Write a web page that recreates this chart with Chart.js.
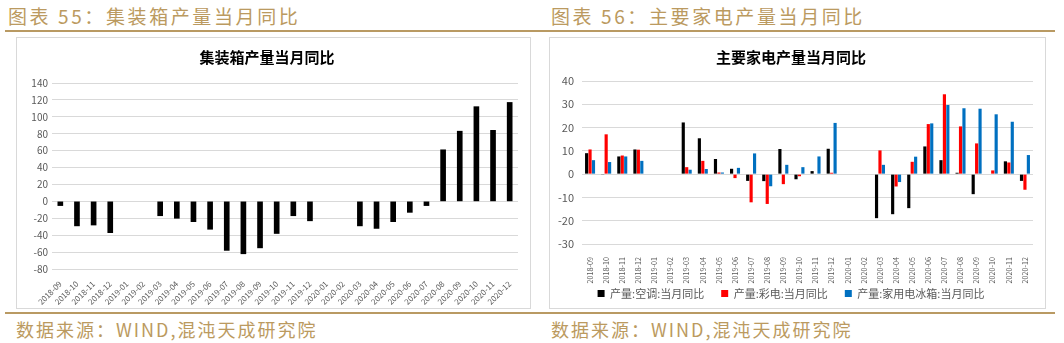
<!DOCTYPE html>
<html>
<head>
<meta charset="utf-8">
<script src="https://cdn.jsdelivr.net/npm/chart.js@4"></script>
<style>
  body { margin: 0; width: 1064px; height: 343px; background: #fff; position: relative; overflow: hidden; }
  .head { position: absolute; top: 2px; font: 19px "Noto Sans CJK SC", sans-serif; color: #bb9a60; letter-spacing: 2.6px; white-space: nowrap; }
  .foot { position: absolute; top: 316px; font: 18px "Noto Sans CJK SC", sans-serif; color: #bb9a60; letter-spacing: 2px; white-space: nowrap; }
  .rule { position: absolute; left: 5px; width: 1050px; height: 2px; background: #b99a63; }
  .box { position: absolute; top: 37px; height: 272px; border: 1px solid #d9d9d9; box-sizing: border-box; }
  canvas { position: absolute; top: 37px; }
</style>
</head>
<body>
<div class="head" style="left:8px">图表 55：集装箱产量当月同比</div>
<div class="head" style="left:551px">图表 56：主要家电产量当月同比</div>
<div class="rule" style="top:30px"></div>
<div class="box" style="left:16px;width:515px"></div>
<div class="box" style="left:549px;width:497px"></div>
<canvas id="left-chart" style="left:16px"></canvas>
<canvas id="right-chart" style="left:549px"></canvas>
<div class="rule" style="top:312px"></div>
<div class="foot" style="left:16px">数据来源：WIND,混沌天成研究院</div>
<div class="foot" style="left:551px">数据来源：WIND,混沌天成研究院</div>

<script>
// ─── Data ──────────────────────────────────────────────────────

const MONTHS = [
  '2018-09', '2018-10', '2018-11', '2018-12',
  '2019-01', '2019-02', '2019-03', '2019-04', '2019-05', '2019-06',
  '2019-07', '2019-08', '2019-09', '2019-10', '2019-11', '2019-12',
  '2020-01', '2020-02', '2020-03', '2020-04', '2020-05', '2020-06',
  '2020-07', '2020-08', '2020-09', '2020-10', '2020-11', '2020-12',
];

const CONTAINER_YOY = [
  -5, -29, -28, -37, null, null, -17, -20, -24, -33,
  -58, -62, -55, -38, -17, -23, null, null, -29, -32,
  -24, -13, -5, 61, 83, 112, 84, 117,
];

const AC_YOY = [
  9.0, -0.3, 7.6, 10.6, null, null, 22.2, 15.4, 6.5, 2.3,
  -2.9, -3.0, 10.8, -2.2, 1.3, 10.9, null, null, -18.9, -17.2,
  -14.6, 11.9, 6.0, 0.6, -8.6, 0, 5.5, -2.9,
];

const TV_YOY = [
  10.6, 17.1, 8.0, 10.5, null, null, 3.0, 5.7, 0.7, -1.7,
  -12.1, -12.8, -4.3, -0.9, 0, 0.6, null, null, 10.2, -5.3,
  5.3, 21.5, 34.3, 20.5, 13.2, 1.6, 5.0, -6.7,
];

const FRIDGE_YOY = [
  6.0, 5.2, 7.6, 5.7, null, null, 1.9, 2.2, 0.7, 2.7,
  8.9, -5.2, 4.0, 3.0, 7.6, 22.0, null, null, 4.0, -3.4,
  7.5, 21.8, 29.7, 28.3, 28.1, 25.7, 22.5, 8.2,
];

const FONT = '"Noto Sans CJK SC", "Liberation Sans", sans-serif';
const TICK_COLOR = '#595959';
const GRID_COLOR = '#d9d9d9';

// ─── Charts ────────────────────────────────────────────────────

function renderContainerChart() {
  const canvas = document.getElementById('left-chart');
  canvas.width = 515;
  canvas.height = 273;

  new Chart(canvas, {
    type: 'bar',
    data: {
      labels: MONTHS,
      datasets: [{
        label: '集装箱产量当月同比',
        data: CONTAINER_YOY,
        backgroundColor: '#000',
        barThickness: 5,
      }],
    },
    options: {
      responsive: false,
      animation: false,
      layout: { padding: { left: 0, right: 13, top: 0, bottom: 0 } },
      plugins: {
        legend: { display: false },
        tooltip: { enabled: false },
        title: {
          display: true,
          text: '集装箱产量当月同比',
          color: '#000',
          font: { family: FONT, size: 15, weight: 'bold' },
          padding: { top: 11, bottom: 17 },
        },
      },
      scales: {
        y: {
          min: -80,
          max: 140,
          afterFit: s => { s.width = 36; },
          ticks: { stepSize: 20, color: TICK_COLOR, padding: 4, font: { family: FONT, size: 10 } },
          grid: { color: GRID_COLOR, drawTicks: false },
          border: { display: false },
        },
        x: {
          afterFit: s => { s.height = 41; },
          ticks: {
            autoSkip: false, minRotation: 45, maxRotation: 45,
            color: TICK_COLOR, padding: 2, font: { family: FONT, size: 8 },
          },
          grid: { display: false },
          border: { display: false },
        },
      },
    },
  });
}

// legend keeps wide gaps between items but sits closer to the axis labels
const liftLegend = {
  id: 'liftLegend',
  afterLayout(chart) {
    if (!chart.legend) return;
    chart.legend.top -= 13;
    chart.legend.bottom -= 13;
  },
};

function renderApplianceChart() {
  const canvas = document.getElementById('right-chart');
  canvas.width = 497;
  canvas.height = 273;

  const series = [
    { label: '产量:空调:当月同比', data: AC_YOY, color: '#000000' },
    { label: '产量:彩电:当月同比', data: TV_YOY, color: '#ff0000' },
    { label: '产量:家用电冰箱:当月同比', data: FRIDGE_YOY, color: '#0070c0' },
  ];

  new Chart(canvas, {
    type: 'bar',
    data: {
      labels: MONTHS,
      datasets: series.map(s => ({
        label: s.label,
        data: s.data,
        backgroundColor: s.color,
        categoryPercentage: 0.64,
        barPercentage: 0.92,
      })),
    },
    plugins: [liftLegend],
    options: {
      responsive: false,
      animation: false,
      layout: { padding: { left: 0, right: 13, top: 0, bottom: -12 } },
      plugins: {
        tooltip: { enabled: false },
        title: {
          display: true,
          text: '主要家电产量当月同比',
          color: '#000',
          font: { family: FONT, size: 15, weight: 'bold' },
          padding: { top: 11, bottom: 15 },
        },
        legend: {
          position: 'bottom',
          labels: {
            boxWidth: 7,
            boxHeight: 7,
            padding: 17,
            color: TICK_COLOR,
            font: { family: FONT, size: 11 },
          },
        },
      },
      scales: {
        y: {
          min: -30,
          max: 40,
          afterFit: s => { s.width = 33; },
          ticks: { stepSize: 10, color: TICK_COLOR, padding: 8, font: { family: FONT, size: 11 } },
          grid: { color: GRID_COLOR, drawTicks: false },
          border: { display: false },
        },
        x: {
          afterFit: s => { s.height = 40; },
          ticks: {
            autoSkip: false, minRotation: 90, maxRotation: 90,
            color: TICK_COLOR, padding: 5, font: { family: FONT, size: 7.2 },
          },
          grid: { display: false },
          border: { display: false },
        },
      },
    },
  });
}

renderContainerChart();
renderApplianceChart();
</script>
</body>
</html>
